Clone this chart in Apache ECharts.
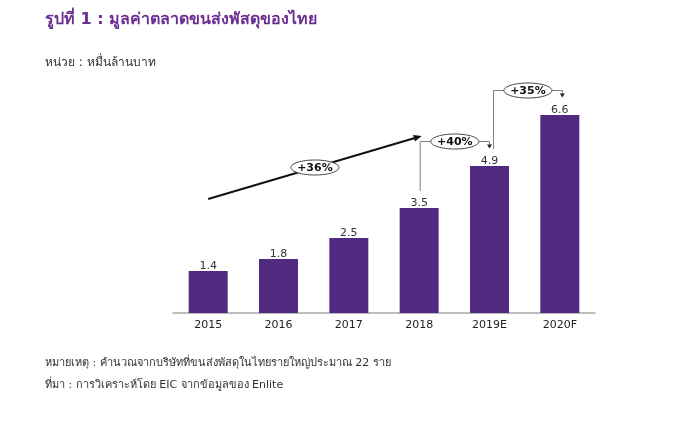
<!DOCTYPE html>
<html>
<head>
<meta charset="utf-8">
<script src="https://cdn.jsdelivr.net/npm/echarts@6/dist/echarts.min.js"></script>
<style>
html,body{margin:0;padding:0;background:#fff;}
#c{width:700px;height:434px;}
</style>
</head>
<body>
<div id="c"></div>
<script>
// ---- data ----
const categories = ['2015', '2016', '2017', '2018', '2019E', '2020F'];
const values = [1.4, 1.8, 2.5, 3.5, 4.9, 6.6];
const trendLabel = '+36%';
const trendStart = [0, 3.8];
const trendEnd = [3, 5.9];
const bracketFrom = [3, 4];
const bracketTo = [4, 5];
const bracketLabels = ['+40%', '+35%'];
const titleText = 'รูปที่ 1 : มูลค่าตลาดขนส่งพัสดุของไทย';
const unitText = 'หน่วย : หมื่นล้านบาท';
const noteText = 'หมายเหตุ : คำนวณจากบริษัทที่ขนส่งพัสดุในไทยรายใหญ่ประมาณ 22 ราย';
const sourceText = 'ที่มา : การวิเคราะห์โดย EIC จากข้อมูลของ Enlite';

const FONT = 'Tahoma, "DejaVu Sans", "Noto Sans", sans-serif';
const chart = echarts.init(document.getElementById('c'));

function ellipseWithText(cx, cy, txt) {
  return [
    { type: 'ellipse', shape: { cx: cx, cy: cy, rx: 24, ry: 7.5 },
      style: { fill: '#fff', stroke: '#444', lineWidth: 1 }, z2: 10 },
    { type: 'text', x: cx, y: cy + 0.5,
      style: { text: txt, fill: '#111', font: 'bold 11px ' + FONT, align: 'center', verticalAlign: 'middle' }, z2: 11 }
  ];
}

const bracketOffsets = [[1, 0], [4, 2.5]];

chart.setOption({
  animation: false,
  backgroundColor: '#fff',
  title: [
    { text: titleText, left: 45, top: 12, padding: 0,
      textStyle: { color: '#6b2d90', fontSize: 16, fontWeight: 'bold', fontFamily: FONT } },
    { text: unitText, left: 45, top: 57, padding: 0,
      textStyle: { color: '#333', fontSize: 12, fontWeight: 'normal', fontFamily: FONT } },
    { text: noteText, left: 45, top: 358, padding: 0,
      textStyle: { color: '#333', fontSize: 11, fontWeight: 'normal', fontFamily: FONT } },
    { text: sourceText, left: 45, top: 380, padding: 0,
      textStyle: { color: '#333', fontSize: 11, fontWeight: 'normal', fontFamily: FONT } }
  ],
  grid: { left: 173, right: 105, top: 73, bottom: 121 },
  xAxis: {
    type: 'category',
    data: categories,
    axisTick: { show: false },
    axisLine: { lineStyle: { color: '#a6a6a6', width: 1.5 } },
    axisLabel: { color: '#222', fontSize: 11, margin: 7, fontFamily: FONT }
  },
  yAxis: { type: 'value', min: 0, max: 8, show: false, splitLine: { show: false } },
  series: [
    {
      type: 'bar',
      data: values,
      barWidth: 39,
      itemStyle: { color: '#4f2a80' },
      label: { show: true, position: 'top', distance: -1, color: '#333', fontSize: 11, fontFamily: FONT }
    },
    {
      type: 'custom',
      data: [[trendStart[0], trendStart[1], trendEnd[0], trendEnd[1]]],
      encode: { x: 0, y: 1 },
      z: 5,
      silent: true,
      renderItem: function (params, api) {
        const p1 = api.coord([api.value(0), api.value(1)]);
        const p2 = api.coord([api.value(2), api.value(3)]);
        p2[0] += 2.5;
        const ang = Math.atan2(p2[1] - p1[1], p2[0] - p1[0]);
        const L = 8, W = 3.5;
        const bx = p2[0] - L * Math.cos(ang), by = p2[1] - L * Math.sin(ang);
        const nx = -Math.sin(ang) * W, ny = Math.cos(ang) * W;
        const children = [
          { type: 'line', shape: { x1: p1[0], y1: p1[1], x2: bx, y2: by },
            style: { stroke: '#111', lineWidth: 2 } },
          { type: 'polygon', shape: { points: [[p2[0], p2[1]], [bx + nx, by + ny], [bx - nx, by - ny]] },
            style: { fill: '#111' } }
        ].concat(ellipseWithText((p1[0] + p2[0]) / 2, (p1[1] + p2[1]) / 2, trendLabel));
        return { type: 'group', children: children };
      }
    },
    {
      type: 'custom',
      data: bracketFrom.map(function (f, i) { return [f, values[f], bracketTo[i], values[bracketTo[i]], i]; }),
      encode: { x: 0, y: 1 },
      z: 5,
      silent: true,
      renderItem: function (params, api) {
        const a = api.coord([api.value(0), api.value(1)]);
        const b = api.coord([api.value(2), api.value(3)]);
        const k = api.value(4);
        const off = bracketOffsets[k];
        const xl = a[0] + off[0], xr = b[0] + off[1];
        const yBottom = a[1] - 17, yLevel = b[1] - 24.5, yTip = b[1] - 17.5;
        const cx = (xl + xr) / 2;
        const stroke = { stroke: '#808080', lineWidth: 1, fill: null };
        const children = [
          { type: 'polyline', shape: { points: [[xl, yBottom], [xl, yLevel], [cx - 24, yLevel]] }, style: stroke },
          { type: 'polyline', shape: { points: [[cx + 24, yLevel], [xr, yLevel], [xr, yTip - 3]] }, style: stroke },
          { type: 'polygon', shape: { points: [[xr, yTip], [xr - 2.5, yTip - 4], [xr + 2.5, yTip - 4]] },
            style: { fill: '#222' } }
        ].concat(ellipseWithText(cx, yLevel, bracketLabels[k]));
        return { type: 'group', children: children };
      }
    }
  ]
});
</script>
</body>
</html>
